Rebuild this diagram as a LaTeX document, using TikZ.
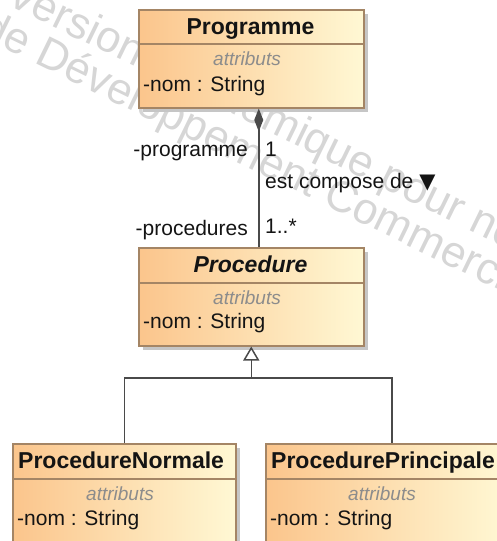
\documentclass[tikz,border=0pt]{standalone}
\usepackage{fontspec}
\setmainfont{Liberation Sans}
\newfontfamily\symfont{DejaVu Sans}
\usetikzlibrary{arrows.meta,shadows}

\definecolor{classL}{HTML}{FBC58C}
\definecolor{classR}{HTML}{FFF8D4}
\definecolor{classBorder}{HTML}{A48565}
\definecolor{shadowGray}{HTML}{C6C6C6}
\definecolor{lineGray}{HTML}{4A4A4A}
\definecolor{attrGray}{HTML}{8C8C8C}
\definecolor{markGray}{HTML}{D6D6D6}
\definecolor{textDark}{HTML}{141414}

\tikzset{
  classbox/.style={rectangle, draw=classBorder, line width=1.5pt,
    left color=classL, right color=classR, anchor=north west, inner sep=0pt,
    drop shadow={shadow xshift=4pt, shadow yshift=-4pt, fill=shadowGray, opacity=1}},
  sepline/.style={draw=classBorder, line width=1.5pt},
  cname/.style={inner sep=0pt, text=textDark, font=\fontsize{23}{27}\selectfont\bfseries},
  attrlbl/.style={inner sep=0pt, anchor=base, text=attrGray, font=\fontsize{19}{23}\selectfont\itshape},
  attrtxt/.style={inner sep=0pt, anchor=base west, text=textDark, font=\fontsize{21}{25}\selectfont},
  elbl/.style={inner sep=0pt, text=textDark, font=\fontsize{21}{25}\selectfont},
  assoc/.style={draw=lineGray, line width=1.5pt},
  wmark/.style={inner sep=0pt, anchor=base west, text=markGray, font=\fontsize{44}{50}\selectfont},
}

\begin{document}
\begin{tikzpicture}[x=1pt,y=1pt]
\useasboundingbox (0,0) rectangle (497,-541);
\clip (0,0) rectangle (497,-541);

% background watermark
\node[wmark, rotate=-26] (wm1) at (4,-3) {Version Académique pour non};
\node[wmark, rotate=-26] (wm2) at (-22,-36) {de Développement Commercial};

% class Programme
\node[classbox, minimum width=225pt, minimum height=98pt] (prog) at (138,-9) {};
\draw[sepline] (prog.west |- 0,-44) -- (prog.east |- 0,-44);
\node[cname, anchor=base] (progN) at (250.5,-34) {Programme};
\node[attrlbl] (progA) at (247,-65) {attributs};
\node[attrtxt] (progV) at (143,-91) {-nom : String};

% abstract class Procedure
\node[classbox, minimum width=225pt, minimum height=98pt] (proc) at (138,-247) {};
\draw[sepline] (proc.west |- 0,-283) -- (proc.east |- 0,-283);
\node[cname, anchor=base, font=\fontsize{23}{27}\selectfont\bfseries\itshape] (procN) at (250.5,-272) {Procedure};
\node[attrlbl] (procA) at (247,-304) {attributs};
\node[attrtxt] (procV) at (143,-328) {-nom : String};

% class ProcedureNormale
\node[classbox, minimum width=223pt, minimum height=120pt] (norm) at (12,-443) {};
\draw[sepline] (norm.west |- 0,-479) -- (norm.east |- 0,-479);
\node[cname, anchor=base west] (normN) at (18,-468) {ProcedureNormale};
\node[attrlbl] (normA) at (120,-500) {attributs};
\node[attrtxt] (normV) at (17,-525) {-nom : String};

% class ProcedurePrincipale
\node[classbox, minimum width=241pt, minimum height=120pt] (princ) at (265,-443) {};
\draw[sepline] (princ.west |- 0,-479) -- (princ.east |- 0,-479);
\node[cname, anchor=base west] (princN) at (271,-468) {ProcedurePrincipale};
\node[attrlbl] (princA) at (382,-500) {attributs};
\node[attrtxt] (princV) at (270,-525) {-nom : String};

% composition Programme -- Procedure
\draw[assoc, {Diamond[length=23pt,width=9pt]}-] ([xshift=7.5pt]prog.south) -- ([xshift=7.5pt]proc.north);
\node[elbl, anchor=base east] (roleProg) at (248,-156) {-programme};
\node[elbl, anchor=base west] (multProg) at (265,-156) {1};
\node[elbl, anchor=base west] (assocName) at (265,-188) {est compose de {\symfont ▼}};
\node[elbl, anchor=base east] (roleProc) at (248,-235) {-procedures};
\node[elbl, anchor=base west] (multProc) at (265,-233) {1..*};

% generalization
\coordinate (split) at (proc.south |- 0,-378);
\draw[assoc, -{Triangle[open,length=14pt,width=16pt]}] (split) -- (proc.south);
\draw[assoc] (norm.north) |- (split) -| ([xshift=5.5pt]princ.north);

\end{tikzpicture}
\end{document}
